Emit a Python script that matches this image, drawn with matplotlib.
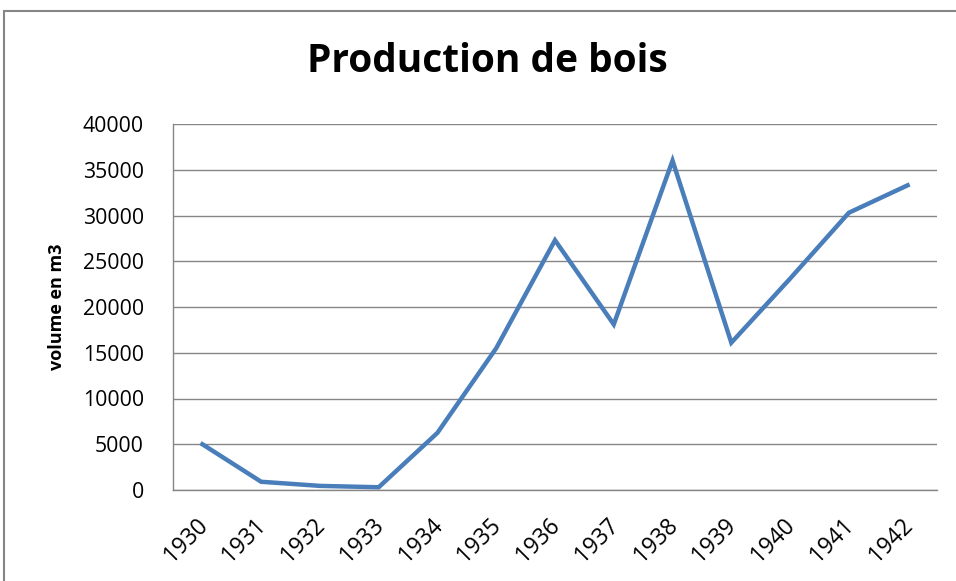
import matplotlib
matplotlib.use('Agg')
import matplotlib.pyplot as plt
import matplotlib.transforms as mtransforms
from matplotlib.patches import Rectangle

annees = ['1930', '1931', '1932', '1933', '1934', '1935', '1936',
          '1937', '1938', '1939', '1940', '1941', '1942']
volume = [5000, 900, 450, 300, 6250, 15500, 27300,
          18100, 36000, 16100, 23100, 30300, 33300]
yticks = [0, 5000, 10000, 15000, 20000, 25000, 30000, 35000, 40000]

plt.rcParams['font.family'] = ['Open Sans', 'DejaVu Sans']
GRIS = '#868686'

fig = plt.figure(figsize=(9.56, 5.81), dpi=100)
ax = fig.add_axes([173/956, 91/581, 764/956, 366/581])

x = range(len(annees))
ax.plot(x, volume, color='#4A7EBB', lw=3.2, solid_joinstyle='miter')

ax.set_xlim(-0.5, len(annees) - 0.5)
ax.set_ylim(0, 40000)
ax.set_yticks(yticks)
ax.set_yticklabels([str(v) for v in yticks], fontsize=15.3)
ax.set_xticks(list(x))
ax.set_xticklabels(annees, fontsize=16.3, rotation=45, ha='right',
                   rotation_mode='anchor')
ax.tick_params(length=0)
ax.tick_params(axis='y', pad=21)
ax.tick_params(axis='x', pad=17)
decal = mtransforms.ScaledTranslation(-7/100, 0, fig.dpi_scale_trans)
for t in ax.get_xticklabels():
    t.set_transform(t.get_transform() + decal)
ax.grid(axis='y', color=GRIS, lw=1)
ax.set_axisbelow(True)
for s in ['top', 'right']:
    ax.spines[s].set_visible(False)
for s in ['left', 'bottom']:
    ax.spines[s].set_color(GRIS)
    ax.spines[s].set_linewidth(1)

ax.set_ylabel('volume en m3', fontsize=13, fontweight='bold', labelpad=12)
fig.text(487/956, 1 - 62/581, 'Production de bois', fontsize=28,
         fontweight='bold', ha='center', va='center')

# cadre du graphique (coupe a droite et en bas)
fig.add_artist(Rectangle((4/956, -0.2), 1.2, 0.2 + (581 - 11)/581,
                         transform=fig.transFigure, fill=False,
                         edgecolor=GRIS, lw=1.5))

fig.savefig('out.png', dpi=100)
